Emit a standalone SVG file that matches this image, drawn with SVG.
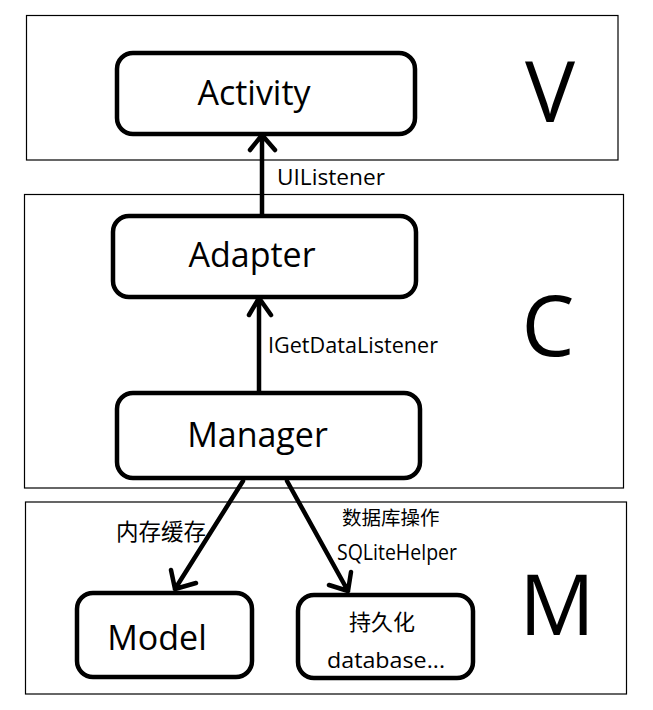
<svg xmlns="http://www.w3.org/2000/svg" width="653" height="710" viewBox="0 0 653 710">
<style>
.layer{fill:none;stroke:#000;stroke-width:1.2}
.node{fill:#fff;stroke:#000;stroke-width:4.5}
.big{font-family:"Open Sans","Liberation Sans",sans-serif;font-size:34px;fill:#000;text-anchor:middle}
.lbl{font-family:"Open Sans","Liberation Sans",sans-serif;font-size:21px;fill:#000}
.cjk{font-family:"Open Sans","Noto Sans CJK SC",sans-serif;fill:#000}
.tier{font-family:"Open Sans","Liberation Sans",sans-serif;font-size:84px;fill:#000;text-anchor:middle}
.con{fill:none;stroke:#000;stroke-width:4.5;stroke-linecap:round;stroke-linejoin:round}
</style>
<rect width="653" height="710" fill="#fff"/>
<g id="layers">
<rect class="layer" x="26.5" y="15.5" width="591.5" height="144.5"/>
<rect class="layer" x="24.5" y="194.5" width="599" height="293.5"/>
<rect class="layer" x="25.5" y="502" width="601" height="192"/>
<text class="tier" x="550" y="122">V</text>
<text class="tier" x="548" y="356">C</text>
<text class="tier" x="557" y="635">M</text>
</g>
<g id="connectors">
<path class="con" d="M262 216 L262 135 M250 150 L262 135 L275 150"/>
<path class="con" d="M259 392 L259 298 M249 315 L259 298 L271 315"/>
<path class="con" d="M243 481 L175 589 M171 570 L175 589 L196 583"/>
<path class="con" d="M287 481 L348 591 M351 572 L348 591 L329 585"/>
<text class="lbl" x="277" y="185" textLength="108" lengthAdjust="spacingAndGlyphs">UIListener</text>
<text class="lbl" x="268" y="353" textLength="170" lengthAdjust="spacingAndGlyphs">IGetDataListener</text>
<text class="cjk" x="116" y="540" font-size="22.5">内存缓存</text>
<text class="cjk" x="342" y="525" font-size="19.5">数据库操作</text>
<text class="lbl" x="337" y="560" textLength="120" lengthAdjust="spacingAndGlyphs">SQLiteHelper</text>
</g>
<g id="activity">
<rect class="node" x="117" y="53" width="298" height="81" rx="16"/>
<text class="big" x="254" y="105">Activity</text>
</g>
<g id="adapter">
<rect class="node" x="113" y="216" width="303" height="81" rx="16"/>
<text class="big" x="252" y="267">Adapter</text>
</g>
<g id="manager">
<rect class="node" x="117" y="393" width="303" height="85" rx="16"/>
<text class="big" x="257.5" y="447">Manager</text>
</g>
<g id="model">
<rect class="node" x="77" y="593" width="175" height="84" rx="16"/>
<text class="big" x="157" y="650" font-size="35">Model</text>
</g>
<g id="database">
<rect class="node" x="298" y="595" width="175" height="83" rx="16"/>
<text class="cjk" x="382" y="630" font-size="22" text-anchor="middle">持久化</text>
<text class="lbl" x="327" y="668" textLength="118" lengthAdjust="spacingAndGlyphs" font-size="22">database...</text>
</g>
</svg>
